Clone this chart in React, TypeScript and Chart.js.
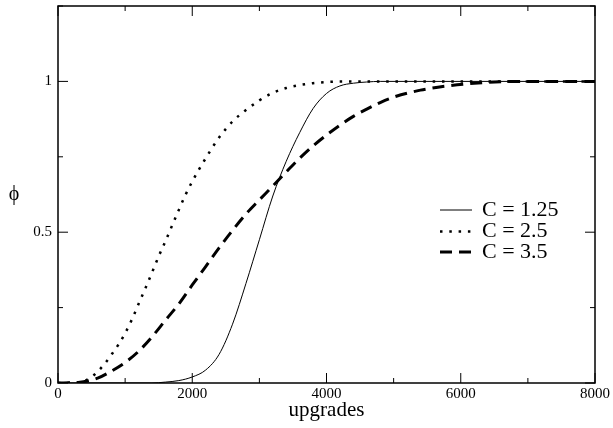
import React, { useEffect, useRef } from 'react';
import { Chart, registerables } from 'chart.js';

Chart.register(...registerables);

// 데이터
const solidX = [0, 1400, 1600, 1800, 2000, 2200, 2400, 2600, 2800, 3000, 3200, 3400, 3600, 3800, 4000, 4200, 4400, 4600, 4800, 8000];
const solidY = [0, 0, 0.003, 0.008, 0.02, 0.043, 0.095, 0.195, 0.33, 0.475, 0.62, 0.735, 0.83, 0.91, 0.96, 0.985, 0.994, 0.998, 1, 1];

const dottedX = [0, 300, 400, 500, 600, 700, 800, 900, 1000, 1100, 1200, 1300, 1400, 1500, 1600, 1700, 1800, 1900, 2000, 2200, 2400, 2600, 2800, 3000, 3200, 3400, 3600, 3800, 4000, 4400, 8000];
const dottedY = [0, 0.002, 0.008, 0.02, 0.04, 0.065, 0.095, 0.127, 0.165, 0.21, 0.262, 0.313, 0.366, 0.42, 0.47, 0.522, 0.574, 0.624, 0.668, 0.745, 0.814, 0.867, 0.905, 0.937, 0.962, 0.978, 0.988, 0.994, 0.998, 1, 1];

const dashedX = [0, 300, 600, 800, 1000, 1200, 1400, 1600, 1800, 2000, 2200, 2400, 2600, 2800, 3000, 3200, 3400, 3600, 3800, 4000, 4200, 4400, 4600, 4800, 5000, 5400, 5800, 6200, 6600, 7000, 8000];
const dashedY = [0, 0.002, 0.017, 0.04, 0.068, 0.105, 0.153, 0.208, 0.262, 0.325, 0.386, 0.448, 0.506, 0.56, 0.607, 0.653, 0.7, 0.745, 0.786, 0.822, 0.855, 0.884, 0.908, 0.93, 0.948, 0.971, 0.985, 0.994, 0.999, 1, 1];

const seriesLabels = ['C = 1.25', 'C = 2.5', 'C = 3.5'];

const X_MAX = 8000;
const Y_MAX = 1.25;

const SERIF = 'Liberation Serif';

const toPoints = (xs: number[], ys: number[]) => xs.map((x, i) => ({ x, y: ys[i] }));

// 테두리, 안쪽 눈금, 범례, φ 라벨
const decorPlugin = {
  id: 'decor',
  afterDraw(chart: any) {
    const { ctx, chartArea: a, scales } = chart;
    const xs = scales.x;
    const ys = scales.y;
    ctx.save();
    ctx.strokeStyle = '#000';
    ctx.lineWidth = 1;
    const seg = (x1: number, y1: number, x2: number, y2: number) => {
      ctx.beginPath();
      ctx.moveTo(x1, y1);
      ctx.lineTo(x2, y2);
      ctx.stroke();
    };
    xs.ticks.forEach((t: any) => {
      const px = xs.getPixelForValue(t.value);
      const len = t.value % 2000 === 0 ? 10 : 5;
      seg(px, a.bottom, px, a.bottom - len);
      seg(px, a.top, px, a.top + len);
    });
    ys.ticks.forEach((t: any) => {
      const py = ys.getPixelForValue(t.value);
      const len = t.value % 0.5 === 0 ? 10 : 5;
      seg(a.left, py, a.left + len, py);
      seg(a.right, py, a.right - len, py);
    });
    ctx.lineWidth = 1.5;
    ctx.strokeRect(a.left, a.top, a.right - a.left, a.bottom - a.top);

    // 범례
    ctx.fillStyle = '#000';
    ctx.font = `22px "${SERIF}"`;
    ctx.textBaseline = 'middle';
    ctx.textAlign = 'left';
    const rowY = [210, 231.5, 252];
    chart.data.datasets.forEach((ds: any, i: number) => {
      const y = rowY[i];
      ctx.save();
      ctx.lineWidth = ds.borderWidth;
      ctx.setLineDash(ds.borderDash || []);
      seg(440, y, 472, y);
      ctx.restore();
      ctx.fillText(ds.label, 482, y);
    });

    // y축 제목 (세워서)
    ctx.font = `20px "${SERIF}"`;
    ctx.textAlign = 'center';
    ctx.fillText('\u03D5', 14, 195);
    ctx.restore();
  },
};

const App: React.FC = () => {
  const canvasRef = useRef<HTMLCanvasElement | null>(null);

  useEffect(() => {
    if (!canvasRef.current) return;
    const chart = new Chart(canvasRef.current, {
      type: 'line',
      data: {
        datasets: [
          {
            label: seriesLabels[0],
            data: toPoints(solidX, solidY),
            borderColor: '#000',
            borderWidth: 1,
            borderDash: [],
            pointRadius: 0,
            cubicInterpolationMode: 'monotone',
          },
          {
            label: seriesLabels[1],
            data: toPoints(dottedX, dottedY),
            borderColor: '#000',
            borderWidth: 2.5,
            borderDash: [2.5, 6.8],
            pointRadius: 0,
            cubicInterpolationMode: 'monotone',
          },
          {
            label: seriesLabels[2],
            data: toPoints(dashedX, dashedY),
            borderColor: '#000',
            borderWidth: 3,
            borderDash: [12, 7],
            pointRadius: 0,
            cubicInterpolationMode: 'monotone',
          },
        ],
      },
      options: {
        animation: false,
        responsive: true,
        maintainAspectRatio: false,
        layout: { padding: { top: 6, right: 18, left: 0, bottom: 0 } },
        plugins: {
          legend: { display: false },
          tooltip: { enabled: false },
        },
        scales: {
          x: {
            type: 'linear',
            min: 0,
            max: X_MAX,
            grid: { display: false, drawTicks: false },
            border: { display: false },
            ticks: {
              stepSize: 1000,
              autoSkip: false,
              maxRotation: 0,
              padding: 2.5,
              color: '#000',
              font: { family: SERIF, size: 15 },
              callback: (v: any) => (Number(v) % 2000 === 0 ? String(v) : ''),
            },
            title: {
              display: true,
              text: 'upgrades',
              color: '#000',
              font: { family: SERIF, size: 21 },
              padding: { top: 0, bottom: 5 },
            },
            afterFit: (s: any) => {
              s.height = 45;
              s.paddingLeft = 0;
              s.paddingRight = 0;
            },
          },
          y: {
            type: 'linear',
            min: 0,
            max: Y_MAX,
            grid: { display: false, drawTicks: false },
            border: { display: false },
            ticks: {
              stepSize: 0.25,
              autoSkip: false,
              padding: 6,
              color: '#000',
              font: { family: SERIF, size: 15 },
              callback: (v: any) => (Number(v) % 0.5 === 0 ? String(v) : ''),
            },
            afterFit: (s: any) => {
              s.width = 58;
              s.paddingTop = 0;
              s.paddingBottom = 0;
            },
          },
        },
      },
      plugins: [decorPlugin],
    });
    return () => chart.destroy();
  }, []);

  return (
    <div style={{ position: 'fixed', left: 0, top: 0, width: 613, height: 428, background: '#fff' }}>
      <canvas ref={canvasRef} />
    </div>
  );
};

export default App;
